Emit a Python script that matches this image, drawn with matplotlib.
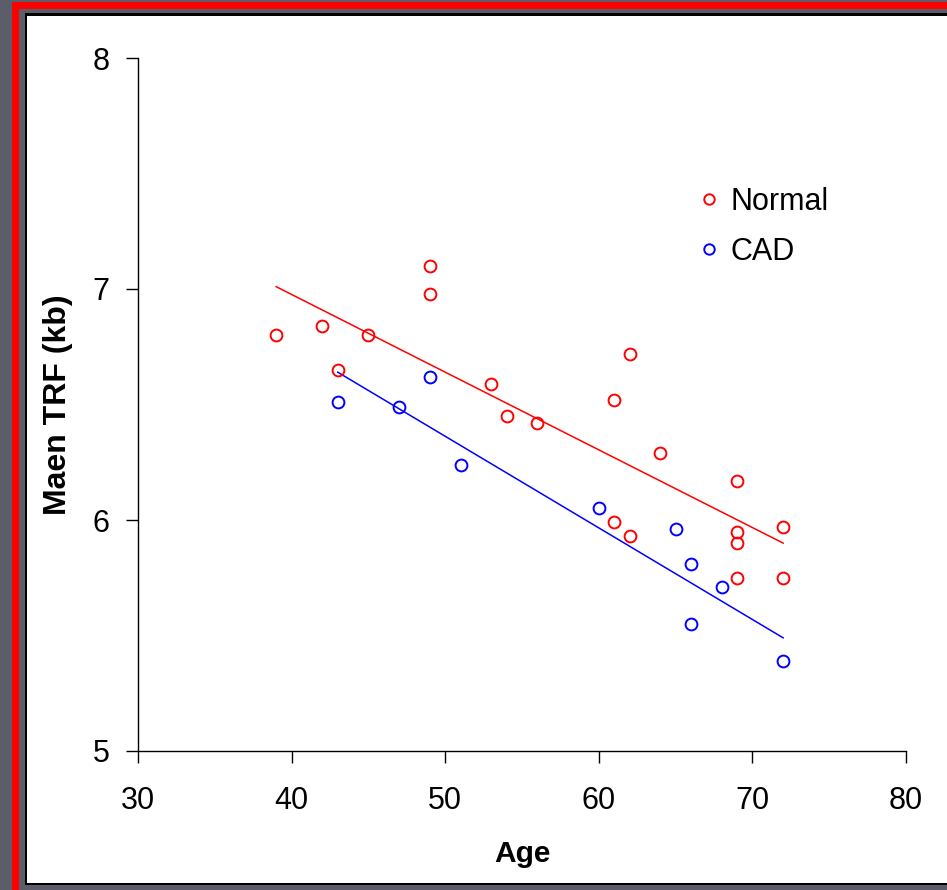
import matplotlib
matplotlib.use("Agg")
import matplotlib.pyplot as plt
from matplotlib.patches import Rectangle

plt.rcParams['font.family'] = ['Liberation Sans', 'DejaVu Sans']

# Normal group
normal_age = [39, 42, 45, 43, 49, 49, 53, 54, 56, 62, 61, 64, 61, 62, 69, 69, 69, 69, 72, 72]
normal_trf = [6.80, 6.84, 6.80, 6.65, 7.10, 6.98, 6.59, 6.45, 6.42, 6.72, 6.52, 6.29,
              5.99, 5.93, 6.17, 5.95, 5.90, 5.75, 5.97, 5.75]
# CAD group
cad_age = [43, 47, 49, 51, 60, 65, 66, 68, 66, 72]
cad_trf = [6.51, 6.49, 6.62, 6.24, 6.05, 5.96, 5.81, 5.71, 5.55, 5.39]

# trend lines (end points)
normal_fit_x = [39, 72]
normal_fit_y = [7.01, 5.90]
cad_fit_x = [43, 72]
cad_fit_y = [6.64, 5.49]

fig = plt.figure(figsize=(9.47, 8.90), dpi=100)
fig.patch.set_facecolor('#5b5e6a')

# red frame, black border, white panel
frame = [((12/947, 0), 1, 1 - 2/890, '#ff0000'),
         ((19/947, 0), 1, 1 - 9/890, '#5b5e6a'),
         ((25/947, 5/890), 1, 1 - 18/890, 'black'),
         ((27/947, 7/890), 1, 1 - 23/890, 'white')]
for xy, w, h, c in frame:
    fig.patches.append(Rectangle(xy, w, h, transform=fig.transFigure,
                                 facecolor=c, edgecolor='none', zorder=-5))

ax = fig.add_axes([138/947, 139/890, 768/947, 693/890])
ax.set_zorder(3)
ax.patch.set_alpha(0)

ax.plot(normal_fit_x, normal_fit_y, color='#ff0000', lw=1.1)
ax.plot(cad_fit_x, cad_fit_y, color='#0000ff', lw=1.1)
ax.plot(normal_age, normal_trf, 'o', mfc='none', mec='#ff0000', mew=1.4, ms=8.5, ls='none')
ax.plot(cad_age, cad_trf, 'o', mfc='none', mec='#0000ff', mew=1.4, ms=8.5, ls='none')

# legend
ax.plot([], [], 'o', mfc='none', mec='#ff0000', mew=1.4, ms=7.5, ls='none', label='Normal')
ax.plot([], [], 'o', mfc='none', mec='#0000ff', mew=1.4, ms=7.5, ls='none', label='CAD')
handles, labels = ax.get_legend_handles_labels()
ax.legend(handles, labels, loc='upper left', bbox_to_anchor=(0.732, 0.814), frameon=False,
          fontsize=22, handlelength=0.6, handletextpad=0.4, labelspacing=0.65,
          borderaxespad=0, borderpad=0)

ax.set_xlim(30, 80)
ax.set_ylim(5, 8)
ax.set_xticks([30, 40, 50, 60, 70, 80])
ax.set_yticks([5, 6, 7, 8])
ax.spines['top'].set_visible(False)
ax.spines['right'].set_visible(False)
for s in ['left', 'bottom']:
    ax.spines[s].set_linewidth(1.0)
ax.tick_params(direction='out', length=8.5, width=1.0, labelsize=22)
ax.tick_params(axis='x', pad=17)
ax.tick_params(axis='y', pad=12)

ax.set_xlabel('Age', fontsize=21.5, fontweight='bold', labelpad=17)
ax.set_ylabel('Maen TRF (kb)', fontsize=23, fontweight='bold', labelpad=14)

fig.savefig('out.png', dpi=100, facecolor=fig.get_facecolor())
